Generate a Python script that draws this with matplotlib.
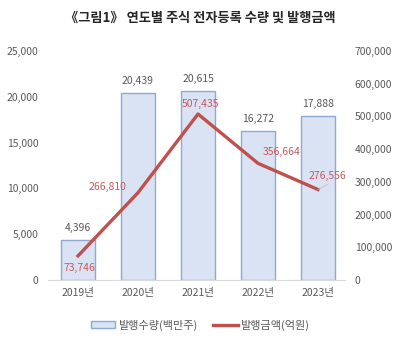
import matplotlib
matplotlib.use("Agg")
import matplotlib.pyplot as plt
from matplotlib.patches import Patch
from matplotlib.lines import Line2D

plt.rcParams['font.family'] = ['Noto Sans CJK KR', 'DejaVu Sans']

years = ['2019년', '2020년', '2021년', '2022년', '2023년']
volume = [4396, 20439, 20615, 16272, 17888]          # 발행수량(백만주)
amount = [73746, 266810, 507435, 356664, 276556]     # 발행금액(억원)
left_ticks = [0, 5000, 10000, 15000, 20000, 25000]
right_ticks = [0, 100000, 200000, 300000, 400000, 500000, 600000, 700000]

bar_face = '#DAE3F3'
bar_edge = '#8EA9D2'
line_col = '#C0504D'
label_red = '#C65A5A'
text_col = '#595959'

fig = plt.figure(figsize=(4.0, 3.43), dpi=100)
ax = fig.add_axes([0.12, 0.1837, 0.7425, 0.6676])
ax2 = ax.twinx()

x = list(range(len(years)))
ax.bar(x, volume, width=0.57, color=bar_face, edgecolor=bar_edge, linewidth=1.0, zorder=2)
ax.set_ylim(0, 25000)
ax.set_xlim(-0.5, 4.45)
ax.set_yticks(left_ticks)
ax.set_yticklabels([f'{v:,}' for v in left_ticks])
ax.set_xticks(x)
ax.set_xticklabels(years)

ax2.plot(x, amount, color=line_col, linewidth=2.4, zorder=3)
ax2.set_ylim(0, 700000)
ax2.set_yticks(right_ticks)
ax2.set_yticklabels([f'{v:,}' for v in right_ticks])

for a in (ax, ax2):
    for s in a.spines.values():
        s.set_visible(False)
    a.tick_params(length=0, labelsize=7.5, colors=text_col)
ax.spines['bottom'].set_visible(True)
ax.spines['bottom'].set_color('#D9D9D9')
ax.tick_params(axis='x', pad=6)
ax.tick_params(axis='y', pad=7)
ax2.tick_params(axis='y', pad=7)

# bar value labels
for xi, v in zip(x, volume):
    ax.annotate(f'{v:,}', (xi, v), xytext=(0, 5), textcoords='offset points',
                ha='center', va='bottom', fontsize=7.5, color=text_col)

# line value labels
offsets = [(1, -9), (-22, 4), (2, 7), (17, 8), (7, 10)]
for xi, v, (dx, dy) in zip(x, amount, offsets):
    ax2.annotate(f'{v:,}', (xi, v), xytext=(dx, dy), textcoords='offset points',
                 ha='center', va='center', fontsize=7.5, color=label_red)
ax2.annotate('', (x[4], amount[4]), xytext=(x[4] + 0.17, amount[4] + 17000),
             arrowprops=dict(arrowstyle='-', color='#BFBFBF', linewidth=0.6,
                             shrinkA=0, shrinkB=0), zorder=3)

fig.text(0.5, 0.947, '《그림1》 연도별 주식 전자등록 수량 및 발행금액', ha='center', va='center',
         fontsize=9.5, fontweight='bold', color='#262626')

handles = [Patch(facecolor=bar_face, edgecolor=bar_edge, linewidth=1.0),
           Line2D([0], [0], color=line_col, linewidth=2.4)]
fig.legend(handles, ['발행수량(백만주)', '발행금액(억원)'], loc='center',
           bbox_to_anchor=(0.5, 0.052), ncol=2, frameon=False, fontsize=8,
           labelcolor=text_col, handlelength=2.2, handleheight=0.6,
           handletextpad=0.2, columnspacing=1.5)

fig.savefig('out.png', dpi=100, facecolor='white')
